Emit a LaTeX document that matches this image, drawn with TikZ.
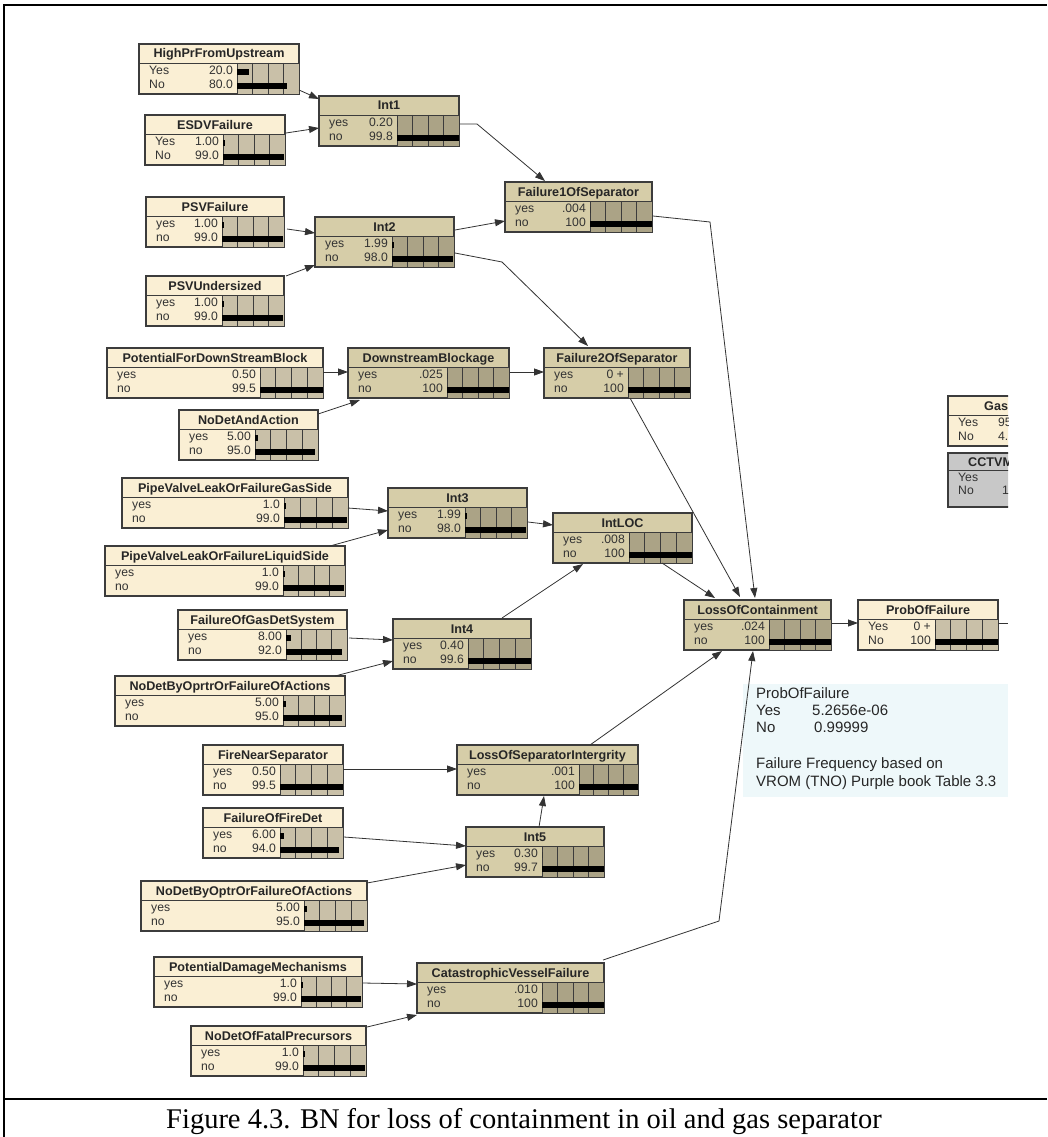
\documentclass[tikz,border=0pt]{standalone}
\usepackage{fontspec}
\setmainfont{Liberation Serif}
\setsansfont{Liberation Sans}
\usetikzlibrary{calc,arrows.meta}

\definecolor{crTop}{HTML}{FAEFD4}
\definecolor{crBar}{HTML}{C9C0A8}
\definecolor{tnTop}{HTML}{D6CDA8}
\definecolor{tnBar}{HTML}{ABA386}
\definecolor{bnEdge}{HTML}{3C3C3C}
\definecolor{noteFill}{HTML}{EEF8FA}
\definecolor{grTop}{HTML}{C8C8C8}

\tikzset{
  bnbox/.style={anchor=north west, inner sep=0pt, outer sep=0pt,
    minimum height=50pt, draw=bnEdge, line width=1.1pt},
  bntitle/.style={font=\sffamily\bfseries\fontsize{12.6}{14}\selectfont,
    inner sep=0pt, text=black!85, anchor=base},
  bntext/.style={font=\sffamily\fontsize{12.2}{14}\selectfont,
    inner sep=0pt, text=black!80},
  notetext/.style={font=\sffamily\fontsize{15}{17}\selectfont,
    inner sep=0pt, anchor=base west, text=black!85},
  link/.style={draw=black!80, line width=0.8pt,
    -{Triangle[length=10pt,width=7pt]}},
  frameline/.style={draw=black, line width=1.4pt},
}

% #1 name, #2 top-left corner, #3 width, #4 offset of the bar area,
% #5 palette (cr = cream, tn = tan), #6 title
\newcommand\bnnode[6]{%
  \node[bnbox, fill=#5Top, minimum width=#3pt] (#1) at (#2) {};
  \coordinate (#1-bar) at ($(#1.north west)+(#4,19)$);
  \coordinate (#1-end) at ($(#1.north east)+(0,19)$);
  \fill[#5Bar] (#1-bar) rectangle (#1.south east);
  \foreach \f in {0.25,0.5,0.75}
    \draw[bnEdge, line width=0.7pt] ($(#1-bar)!\f!(#1-end)$) -- ++(0,31);
  \draw[bnEdge, line width=0.9pt] ($(#1.north west)+(0,19)$) -- (#1-end);
  \draw[bnEdge, line width=0.9pt] (#1-bar) -- (#1-bar |- #1.south);
  \node[bntitle] at ($(#1.north)+(0,14)$) {#6};
}
% #1 node, #2 row centre below the top edge, #3 state, #4 value, #5 bar fraction
\newcommand\bnrow[5]{%
  \node[bntext, anchor=mid west] at ($(#1.north west)+(10,#2)$) {#3};
  \node[bntext, anchor=mid east] at ($(#1-bar)+(-4,#2-19)$) {#4};
  \fill[black] ($(#1-bar)+(0,#2-22)$) rectangle ($(#1-bar)!#5!(#1-end)+(0,#2-16)$);
}

\begin{document}
\begin{tikzpicture}[x=1pt,y=-1pt]
\useasboundingbox (0,0) rectangle (1047,1137);
\fill[white] (0,0) rectangle (1047,1137);

% table frame around the figure and its caption
\draw[frameline] (4,1137) -- (4,5) -- (1047,5);
\draw[frameline] (4,1099) -- (1047,1099);

% ---------------- network nodes ----------------
\bnnode{hp}{139,44}{160}{98}{cr}{HighPrFromUpstream}
\bnrow{hp}{28}{Yes}{20.0}{0.2}
\bnrow{hp}{42}{No}{80.0}{0.8}

\bnnode{esdv}{145,115}{140}{78}{cr}{ESDVFailure}
\bnrow{esdv}{28}{Yes}{1.00}{0.025}
\bnrow{esdv}{42}{No}{99.0}{0.99}

\bnnode{int1}{319,96}{140}{78}{tn}{Int1}
\bnrow{int1}{28}{yes}{0.20}{0}
\bnrow{int1}{42}{no}{99.8}{0.998}

\bnnode{psvf}{146,197}{138}{76}{cr}{PSVFailure}
\bnrow{psvf}{28}{yes}{1.00}{0.025}
\bnrow{psvf}{42}{no}{99.0}{0.99}

\bnnode{psvu}{146,276}{138}{76}{cr}{PSVUndersized}
\bnrow{psvu}{28}{yes}{1.00}{0.025}
\bnrow{psvu}{42}{no}{99.0}{0.99}

\bnnode{int2}{315,217}{139}{77}{tn}{Int2}
\bnrow{int2}{28}{yes}{1.99}{0.03}
\bnrow{int2}{42}{no}{98.0}{0.98}

\bnnode{f1}{505,182}{147}{85}{tn}{Failure1OfSeparator}
\bnrow{f1}{28}{yes}{.004}{0}
\bnrow{f1}{42}{no}{100}{1}

\bnnode{pfdb}{107,348}{216}{153}{cr}{PotentialForDownStreamBlock}
\bnrow{pfdb}{28}{yes}{0.50}{0}
\bnrow{pfdb}{42}{no}{99.5}{0.995}

\bnnode{db}{348,348}{161}{99}{tn}{DownstreamBlockage}
\bnrow{db}{28}{yes}{.025}{0}
\bnrow{db}{42}{no}{100}{1}

\bnnode{ndaa}{179,410}{139}{76}{cr}{NoDetAndAction}
\bnrow{ndaa}{28}{yes}{5.00}{0.05}
\bnrow{ndaa}{42}{no}{95.0}{0.95}

\bnnode{f2}{544,348}{146}{84}{tn}{Failure2OfSeparator}
\bnrow{f2}{28}{yes}{0 +}{0}
\bnrow{f2}{42}{no}{100}{1}

\bnnode{pgas}{122,478}{226}{162}{cr}{PipeValveLeakOrFailureGasSide}
\bnrow{pgas}{28}{yes}{1.0}{0.025}
\bnrow{pgas}{42}{no}{99.0}{0.99}

\bnnode{pliq}{105,546}{240}{178}{cr}{PipeValveLeakOrFailureLiquidSide}
\bnrow{pliq}{28}{yes}{1.0}{0.025}
\bnrow{pliq}{42}{no}{99.0}{0.99}

\bnnode{int3}{388,488}{139}{77}{tn}{Int3}
\bnrow{int3}{28}{yes}{1.99}{0.03}
\bnrow{int3}{42}{no}{98.0}{0.98}

\bnnode{intloc}{553,513}{139}{76}{tn}{IntLOC}
\bnrow{intloc}{28}{yes}{.008}{0}
\bnrow{intloc}{42}{no}{100}{1}

\bnnode{fgds}{178,610}{169}{108}{cr}{FailureOfGasDetSystem}
\bnrow{fgds}{28}{yes}{8.00}{0.08}
\bnrow{fgds}{42}{no}{92.0}{0.92}

\bnnode{int4}{393,619}{138}{75}{tn}{Int4}
\bnrow{int4}{28}{yes}{0.40}{0}
\bnrow{int4}{42}{no}{99.6}{0.996}

\bnnode{ndbo}{115,676}{230}{168}{cr}{NoDetByOprtrOrFailureOfActions}
\bnrow{ndbo}{28}{yes}{5.00}{0.05}
\bnrow{ndbo}{42}{no}{95.0}{0.95}

\bnnode{loc}{684,600}{147}{85}{tn}{LossOfContainment}
\bnrow{loc}{28}{yes}{.024}{0}
\bnrow{loc}{42}{no}{100}{1}

\bnnode{pof}{858,600}{140}{77}{cr}{ProbOfFailure}
\bnrow{pof}{28}{Yes}{0 +}{0}
\bnrow{pof}{42}{No}{100}{1}

\bnnode{fns}{203,745}{140}{77}{cr}{FireNearSeparator}
\bnrow{fns}{28}{yes}{0.50}{0}
\bnrow{fns}{42}{no}{99.5}{0.995}

\bnnode{losi}{457,745}{181}{122}{tn}{LossOfSeparatorIntergrity}
\bnrow{losi}{28}{yes}{.001}{0}
\bnrow{losi}{42}{no}{100}{1}

\bnnode{ffd}{203,808}{140}{77}{cr}{FailureOfFireDet}
\bnrow{ffd}{28}{yes}{6.00}{0.06}
\bnrow{ffd}{42}{no}{94.0}{0.94}

\bnnode{int5}{466,827}{138}{76}{tn}{Int5}
\bnrow{int5}{28}{yes}{0.30}{0}
\bnrow{int5}{42}{no}{99.7}{0.997}

\bnnode{ndbo2}{141,881}{226}{163}{cr}{NoDetByOptrOrFailureOfActions}
\bnrow{ndbo2}{28}{yes}{5.00}{0.05}
\bnrow{ndbo2}{42}{no}{95.0}{0.95}

\bnnode{pdm}{154,957}{208}{147}{cr}{PotentialDamageMechanisms}
\bnrow{pdm}{28}{yes}{1.0}{0.025}
\bnrow{pdm}{42}{no}{99.0}{0.99}

\bnnode{cvf}{417,963}{187}{125}{tn}{CatastrophicVesselFailure}
\bnrow{cvf}{28}{yes}{.010}{0}
\bnrow{cvf}{42}{no}{100}{1}

\bnnode{ndfp}{191,1026}{175}{112}{cr}{NoDetOfFatalPrecursors}
\bnrow{ndfp}{28}{yes}{1.0}{0.025}
\bnrow{ndfp}{42}{no}{99.0}{0.99}

% nodes running past the right edge of the network window
\begin{scope}
  \clip (0,0) rectangle (1008,1137);
  \node[bnbox, fill=crTop, minimum width=120pt] (gas) at (948,396) {};
  \draw[bnEdge, line width=0.9pt] ($(gas.north west)+(0,19)$) -- ($(gas.north east)+(0,19)$);
  \node[bntitle, anchor=base west] at ($(gas.north west)+(36,14)$) {Gas};
  \node[bntext, anchor=mid west] at ($(gas.north west)+(10,28)$) {Yes};
  \node[bntext, anchor=mid west] at ($(gas.north west)+(50,28)$) {95};
  \node[bntext, anchor=mid west] at ($(gas.north west)+(10,42)$) {No};
  \node[bntext, anchor=mid west] at ($(gas.north west)+(50,42)$) {4.};

  \node[bnbox, fill=grTop, minimum width=120pt, minimum height=54pt] (cctv) at (948,453) {};
  \draw[bnEdge, line width=0.9pt] ($(cctv.north west)+(0,17)$) -- ($(cctv.north east)+(0,17)$);
  \node[bntitle, anchor=base west] at ($(cctv.north west)+(20,13)$) {CCTVM};
  \node[bntext, anchor=mid west] at ($(cctv.north west)+(10,26)$) {Yes};
  \node[bntext, anchor=mid west] at ($(cctv.north west)+(10,39)$) {No};
  \node[bntext, anchor=mid west] at ($(cctv.north west)+(54,39)$) {1};
\end{scope}

% ---------------- note ----------------
\node[fill=noteFill, anchor=north west, inner sep=0pt, minimum width=265pt,
      minimum height=113pt] (note) at (743,684) {};
\node[notetext] at ($(note.north west)+(13,14)$) {ProbOfFailure};
\node[notetext] at ($(note.north west)+(13,31)$) {Yes};
\node[notetext] at ($(note.north west)+(69,31)$) {5.2656e-06};
\node[notetext] at ($(note.north west)+(13,48)$) {No};
\node[notetext] at ($(note.north west)+(71,48)$) {0.99999};
\node[notetext] at ($(note.north west)+(13,84)$) {Failure Frequency based on};
\node[notetext] at ($(note.north west)+(13,102)$) {VROM (TNO) Purple book Table 3.3};

% ---------------- links ----------------
\draw[link] ($(hp.north east)+(0,46)$) -- ($(int1.north west)+(0,3)$);
\draw[link] ($(esdv.north east)+(1,18)$) -- ($(int1.north west)+(0,32)$);
\draw[link] ($(int1.north east)+(1,28)$) -- ++(17,0) -- ($(f1.north west)+(40,-1)$);
\draw[link] ($(psvf.north east)+(3,32)$) -- ($(int2.north west)+(0,16)$);
\draw[link] ($(psvu.north east)+(2,0)$) -- ($(int2.north west)+(0,48)$);
\draw[link] ($(int2.north east)+(1,13)$) -- ($(f1.north west)+(0,39)$);
\draw[link] ($(int2.north east)+(1,36)$) -- ++(47,9) -- ($(f2.north west)+(44,-2)$);
\draw[link] ($(pfdb.north east)+(0,24)$) -- ($(db.north west)+(0,24)$);
\draw[link] ($(ndaa.north east)+(0,4)$) -- ($(db.south west)+(12,2)$);
\draw[link] ($(db.north east)+(1,24)$) -- ($(f2.north west)+(0,24)$);
\draw[link] ($(f1.north east)+(1,34)$) -- ++(57,6) -- ($(loc.north west)+(71,-2)$);
\draw[link] ($(f2.south west)+(86,0)$) -- ($(loc.north west)+(56,-3)$);
\draw[link] ($(intloc.south west)+(109,0)$) -- ($(loc.north west)+(31,-2)$);
\draw[link] ($(int3.north east)+(1,34)$) -- ($(intloc.north west)+(0,12)$);
\draw[link] ($(pgas.north east)+(0,30)$) -- ($(int3.north west)+(0,23)$);
\draw[link] ($(pliq.north west)+(225,0)$) -- ($(int3.north west)+(0,42)$);
\draw[link] ($(int4.north west)+(109,-1)$) -- ($(intloc.south west)+(30,1)$);
\draw[link] ($(fgds.north east)+(2,28)$) -- ($(int4.north west)+(0,21)$);
\draw[link] ($(ndbo.north west)+(220,0)$) -- ($(int4.north west)+(0,42)$);
\draw[link] ($(losi.north west)+(133,0)$) -- ($(loc.south west)+(38,1)$);
\draw[link] ($(fns.north east)+(0,24)$) -- ($(losi.north west)+(0,24)$);
\draw[link] ($(ffd.north east)+(1,29)$) -- ($(int5.north west)+(0,19)$);
\draw[link] ($(ndbo2.north east)+(0,2)$) -- ($(int5.north west)+(0,38)$);
\draw[link] ($(int5.north west)+(73,0)$) -- ($(losi.south west)+(87,1)$);
\draw[link] ($(pdm.north east)+(1,26)$) -- ($(cvf.north west)+(0,21)$);
\draw[link] ($(ndfp.north east)+(1,1)$) -- ($(cvf.south west)+(0,2)$);
\draw[link] ($(cvf.north east)+(-1,-3)$) -- ++(116,-39) -- ($(loc.south west)+(69,1)$);
\draw[link] ($(loc.north east)+(1,23)$) -- ($(pof.north west)+(0,23)$);
\draw[draw=black!80, line width=0.8pt] ($(pof.north east)+(0,23)$) -- ++(10,0);

% ---------------- caption ----------------
\node[font=\fontsize{28.5}{30}\selectfont, anchor=base, inner sep=0pt] (cap) at (524,1128)
  {Figure 4.3. BN for loss of containment in oil and gas separator};
\end{tikzpicture}
\end{document}
